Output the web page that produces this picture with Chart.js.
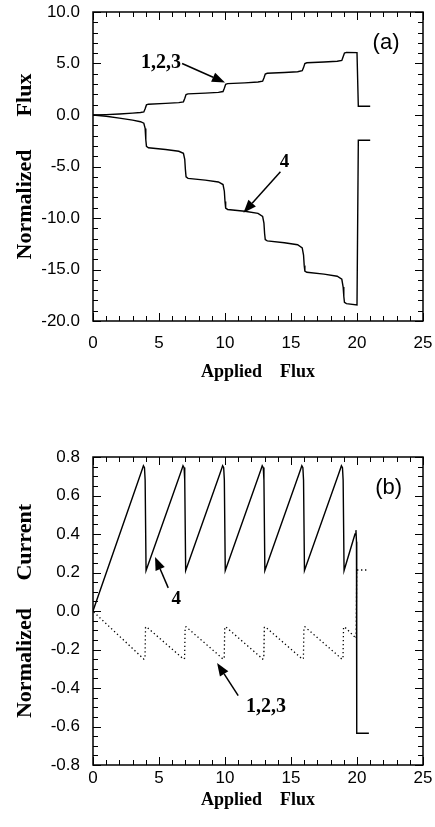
<!DOCTYPE html>
<html lang="en">
<head>
  <meta charset="UTF-8">
  <title>Normalized Flux / Current vs Applied Flux</title>
  <script src="https://cdn.jsdelivr.net/npm/chart.js@4"></script>
  <style>
    html, body { margin: 0; padding: 0; background: #fff; }
    body { width: 435px; height: 827px; position: relative; overflow: hidden; }
    canvas { position: absolute; left: 0; }
    #panelA { top: 0; width: 435px; height: 410px; }
    #panelB { top: 420px; width: 435px; height: 407px; }
  </style>
</head>
<body>
  <canvas id="panelA" width="435" height="410"></canvas>
  <canvas id="panelB" width="435" height="407"></canvas>

  <script>
    // ---- panel (a): normalized flux vs applied flux ----
    const fluxX123 = [0, 1, 2, 3, 3.6, 3.85, 3.95, 4.05, 4.2, 5.5, 6.5, 6.85, 6.95, 7.05, 7.2, 8.5, 9.5, 9.85, 9.95, 10.05, 10.2,
      11.5, 12.5, 12.85, 12.95, 13.05, 13.2, 14.5, 15.5, 15.85, 15.95, 16.05, 16.2, 17.5, 18.5, 18.85, 18.95, 19.05, 19.2, 20.0, 20.1, 21.0];
    const fluxY123 = [0, 0.04, 0.1, 0.18, 0.24, 0.3, 0.6, 0.98, 1.05, 1.13, 1.2, 1.28, 1.6, 1.98, 2.05, 2.12, 2.2, 2.28, 2.6, 2.98, 3.05,
      3.12, 3.2, 3.28, 3.6, 3.98, 4.05, 4.12, 4.2, 4.3, 4.6, 5.0, 5.07, 5.14, 5.22, 5.3, 5.65, 6.02, 6.08, 6.06, 0.85, 0.85];

    const fluxX4 = [0, 1, 2, 3, 3.6, 3.85, 3.95, 4.0, 4.05, 4.2, 5.5, 6.5, 6.85, 6.95, 7.0, 7.05, 7.2, 8.5, 9.5, 9.85, 9.95, 10.0, 10.05, 10.2,
      11.5, 12.5, 12.85, 12.95, 13.0, 13.05, 13.2, 14.5, 15.5, 15.85, 15.95, 16.0, 16.05, 16.2, 17.5, 18.5, 18.85, 18.95, 19.0, 19.05, 19.2,
      20.0, 20.1, 21.0];
    const fluxY4 = [0, -0.12, -0.3, -0.5, -0.65, -0.8, -1.3, -2.4, -3.05, -3.18, -3.35, -3.52, -3.72, -4.3, -5.3, -6.0, -6.15,
      -6.32, -6.5, -6.75, -7.4, -8.4, -9.05, -9.17, -9.35, -9.55, -9.85, -10.5, -11.5, -12.1, -12.22, -12.4, -12.6, -12.9, -13.6,
      -14.6, -15.15, -15.27, -15.45, -15.65, -15.95, -16.7, -17.6, -18.2, -18.32, -18.45, -2.45, -2.45];

    // ---- panel (b): normalized current vs applied flux ----
    const currX4 = [0, 3.6, 3.75, 3.82, 3.9, 3.95, 4.02, 6.6, 6.75, 6.82, 6.9, 6.95, 7.02, 9.6, 9.75, 9.82, 9.9, 9.95, 10.02,
      12.6, 12.75, 12.82, 12.9, 12.95, 13.02, 15.6, 15.75, 15.82, 15.9, 15.95, 16.02, 18.6, 18.75, 18.82, 18.9, 18.95, 19.02,
      19.85, 19.92, 19.96, 19.98, 20.9];
    const currY4 = [0, 0.71, 0.74, 0.755, 0.745, 0.68, 0.21, 0.71, 0.74, 0.755, 0.745, 0.68, 0.21, 0.71, 0.74, 0.755, 0.745, 0.68, 0.21,
      0.71, 0.74, 0.755, 0.745, 0.68, 0.21, 0.71, 0.74, 0.755, 0.745, 0.68, 0.21, 0.71, 0.74, 0.755, 0.745, 0.68, 0.21,
      0.40, 0.42, 0.36, -0.635, -0.635];

    const currX123 = [0.05, 3.7, 3.85, 3.94, 3.98, 4.05, 6.7, 6.85, 6.94, 6.98, 7.05, 9.7, 9.85, 9.94, 9.98, 10.05,
      12.7, 12.85, 12.94, 12.98, 13.05, 15.7, 15.85, 15.94, 15.98, 16.05, 18.7, 18.85, 18.94, 18.98, 19.05, 19.93, 19.98, 20.8];
    const currY123 = [-0.005, -0.24, -0.25, -0.245, -0.085, -0.082, -0.24, -0.25, -0.245, -0.085, -0.082, -0.24, -0.25, -0.245, -0.085, -0.082,
      -0.24, -0.25, -0.245, -0.085, -0.082, -0.24, -0.25, -0.245, -0.085, -0.082, -0.24, -0.25, -0.245, -0.085, -0.082, -0.142, 0.213, 0.213];

    // axis ranges
    const appliedRange = [0, 25];
    const fluxRange = [-20, 10];
    const currentRange = [-0.8, 0.8];

    // text + arrows, placed in data units
    const notesA = {
      labels: [
        { text: '1,2,3', x: 5.15, y: 5.1, font: 'bold 20px "Liberation Serif"' },
        { text: '4', x: 14.5, y: -4.6, font: 'bold 19px "Liberation Serif"' },
        { text: '(a)', x: 22.2, y: 7.0, font: '22px "Liberation Sans"' }
      ],
      arrows: [
        { from: [6.75, 5.0], to: [10.0, 3.15] },
        { from: [14.2, -5.5], to: [11.4, -9.5] }
      ]
    };
    const notesB = {
      labels: [
        { text: '4', x: 6.3, y: 0.06, font: 'bold 19px "Liberation Serif"' },
        { text: '1,2,3', x: 13.1, y: -0.5, font: 'bold 20px "Liberation Serif"' },
        { text: '(b)', x: 22.4, y: 0.64, font: '22px "Liberation Sans"' }
      ],
      arrows: [
        { from: [5.7, 0.12], to: [4.7, 0.28] },
        { from: [11.0, -0.44], to: [9.4, -0.27] }
      ]
    };

    Chart.defaults.font.family = '"Liberation Sans", Arial, sans-serif';
    Chart.defaults.color = '#000';

    function toPoints(xs, ys) {
      return xs.map((x, i) => ({ x: x, y: ys[i] }));
    }

    // frame with inward major/minor ticks on all four sides
    const boxTicks = {
      id: 'boxTicks',
      afterDatasetsDraw(chart, args, o) {
        const { ctx, chartArea: a } = chart;
        const xs = chart.scales.x, ys = chart.scales.y;
        ctx.save();
        ctx.strokeStyle = '#000';
        ctx.lineWidth = 1;
        ctx.beginPath();
        const nx = Math.round((xs.max - xs.min) / o.xMinor);
        for (let i = 0; i <= nx; i++) {
          const px = Math.round(xs.getPixelForValue(xs.min + i * o.xMinor)) + 0.5;
          const len = i % o.xEvery === 0 ? 8 : 5;
          ctx.moveTo(px, a.bottom); ctx.lineTo(px, a.bottom - len);
          ctx.moveTo(px, a.top); ctx.lineTo(px, a.top + len);
        }
        const ny = Math.round((ys.max - ys.min) / o.yMinor);
        for (let i = 0; i <= ny; i++) {
          const py = Math.round(ys.getPixelForValue(ys.min + i * o.yMinor)) + 0.5;
          const len = i % o.yEvery === 0 ? 8 : 5;
          ctx.moveTo(a.left, py); ctx.lineTo(a.left + len, py);
          ctx.moveTo(a.right, py); ctx.lineTo(a.right - len, py);
        }
        ctx.stroke();
        ctx.lineWidth = 1.5;
        ctx.strokeRect(a.left, a.top, a.right - a.left, a.bottom - a.top);
        ctx.restore();
      }
    };

    // curve labels with arrows
    const notes = {
      id: 'notes',
      afterDatasetsDraw(chart, args, o) {
        const { ctx } = chart;
        const xs = chart.scales.x, ys = chart.scales.y;
        ctx.save();
        ctx.fillStyle = '#000';
        ctx.strokeStyle = '#000';
        ctx.textAlign = 'center';
        ctx.textBaseline = 'middle';
        (o.labels || []).forEach(l => {
          ctx.font = l.font;
          ctx.fillText(l.text, xs.getPixelForValue(l.x), ys.getPixelForValue(l.y));
        });
        (o.arrows || []).forEach(ar => {
          const x1 = xs.getPixelForValue(ar.from[0]), y1 = ys.getPixelForValue(ar.from[1]);
          const x2 = xs.getPixelForValue(ar.to[0]), y2 = ys.getPixelForValue(ar.to[1]);
          const ang = Math.atan2(y2 - y1, x2 - x1);
          const head = 13, half = 5;
          const bx = x2 - head * Math.cos(ang), by = y2 - head * Math.sin(ang);
          ctx.lineWidth = 1.5;
          ctx.beginPath();
          ctx.moveTo(x1, y1);
          ctx.lineTo(bx, by);
          ctx.stroke();
          ctx.beginPath();
          ctx.moveTo(x2, y2);
          ctx.lineTo(bx + half * Math.sin(ang), by - half * Math.cos(ang));
          ctx.lineTo(bx - half * Math.sin(ang), by + half * Math.cos(ang));
          ctx.closePath();
          ctx.fill();
        });
        ctx.restore();
      }
    };

    // the axes should not push the plot area around; layout.padding decides it
    function noAxisPadding(s) {
      s.paddingTop = 0; s.paddingBottom = 0; s.paddingLeft = 0; s.paddingRight = 0;
    }

    function makePanel(id, opt) {
      return new Chart(document.getElementById(id), {
        type: 'scatter',
        data: { datasets: opt.datasets },
        options: {
          responsive: false,
          animation: false,
          events: [],
          devicePixelRatio: 1,
          layout: { padding: opt.padding },
          elements: { point: { radius: 0 } },
          plugins: {
            legend: { display: false },
            tooltip: { enabled: false },
            boxTicks: opt.ticks,
            notes: opt.notes
          },
          scales: {
            x: {
              type: 'linear',
              min: appliedRange[0],
              max: appliedRange[1],
              grid: { display: false, drawTicks: false },
              border: { display: false },
              ticks: { stepSize: 5, padding: opt.xLabelPad, font: { size: 17 }, maxRotation: 0, autoSkip: false },
              title: {
                display: true,
                text: 'Applied    Flux',
                font: { family: '"Liberation Serif", serif', size: 18, weight: 'bold' },
                padding: { top: 0, bottom: 0 }
              },
              afterFit(s) { s.height = opt.xHeight; noAxisPadding(s); }
            },
            y: {
              type: 'linear',
              min: opt.yRange[0],
              max: opt.yRange[1],
              grid: { display: false, drawTicks: false },
              border: { display: false },
              ticks: {
                stepSize: opt.yStep,
                padding: 13,
                font: { size: 17 },
                callback: v => (Math.abs(v) < 1e-9 ? 0 : v).toFixed(1)
              },
              title: {
                display: true,
                text: opt.yTitle,
                font: { family: '"Liberation Serif", serif', size: 22, weight: 'bold' },
                padding: { top: 4, bottom: 0 }
              },
              afterFit(s) { s.width = 85; noAxisPadding(s); }
            }
          }
        },
        plugins: [boxTicks, notes]
      });
    }

    const solid = { borderColor: '#000', borderWidth: 1.4, showLine: true, fill: false, tension: 0 };

    makePanel('panelA', {
      datasets: [
        Object.assign({ label: '1,2,3', data: toPoints(fluxX123, fluxY123) }, solid),
        Object.assign({ label: '4', data: toPoints(fluxX4, fluxY4) }, solid)
      ],
      padding: { left: 8, top: 12, right: 12, bottom: 27 },
      xHeight: 62,
      xLabelPad: 12,
      yRange: fluxRange,
      yStep: 5,
      yTitle: 'Normalized      Flux',
      ticks: { xMinor: 1, xEvery: 5, yMinor: 1, yEvery: 5 },
      notes: notesA
    });

    makePanel('panelB', {
      datasets: [
        Object.assign({ label: '4', data: toPoints(currX4, currY4) }, solid),
        Object.assign({ label: '1,2,3', data: toPoints(currX123, currY123) }, solid,
          { borderWidth: 1.3, borderDash: [1.3, 2.7] })
      ],
      padding: { left: 8, top: 37, right: 12, bottom: 16 },
      xHeight: 46,
      xLabelPad: 3,
      yRange: currentRange,
      yStep: 0.2,
      yTitle: 'Normalized     Current',
      ticks: { xMinor: 1, xEvery: 5, yMinor: 0.05, yEvery: 4 },
      notes: notesB
    });
  </script>
</body>
</html>
